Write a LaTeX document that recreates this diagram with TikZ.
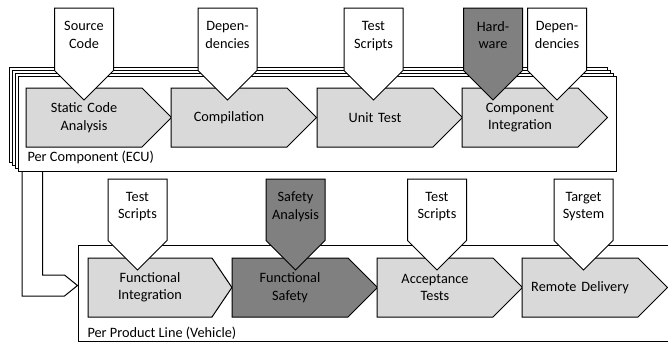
\documentclass[tikz,border=0pt]{standalone}
\usepackage{fontspec}
\setmainfont{Carlito}
\usetikzlibrary{calc,shapes.symbols}
\definecolor{stepgray}{HTML}{D9D9D9}
\definecolor{safegray}{HTML}{808080}

\begin{document}
\begin{tikzpicture}[x=1pt,y=-1pt,line width=1pt,
    font=\fontsize{14.3}{17.4}\selectfont,
    stage/.style={signal,signal to=east,signal pointer angle=90,draw,fill=stepgray,
        inner sep=0pt,text width=116pt,align=center,minimum height=59pt},
    feed/.style={signal,signal to=south,signal pointer angle=90,draw,fill=white,
        inner sep=0pt,text width=59pt,align=center,text depth=26pt,minimum height=92pt},
    scopebox/.style={draw,fill=white,inner sep=0pt,minimum width=598pt,minimum height=95pt},
    scopelabel/.style={anchor=west,inner sep=0pt}]
    \useasboundingbox (0,0) rectangle (668,343);
    \clip (0,0) rectangle (668,343);
    % per component (stacked)
    \coordinate (ecuc) at (317,123.5);
    \foreach \k in {3,2,1}
      \node[scopebox] at ($(ecuc)+(-3*\k,-3*\k)$) {};
    \node[scopebox](ecu) at (ecuc) {};
    \node[scopelabel](ecul) at (27,157) {Per Component (ECU)};
    % per product line
    \node[scopebox,minimum width=622pt,minimum height=96pt](veh) at (389,293) {};
    \node[scopelabel](vehl) at (87,333) {Per Product Line (Vehicle)};
    % stages
    \node[stage](sca) at (84,117.5) {Static Code\\Analysis};
    \node[stage](comp) at (229,117.5) {Compilation};
    \node[stage](unit) at (375,117.5) {Unit Test};
    \node[stage](cint) at (520,117.5) {Component\\Integration};
    \node[stage,text width=124pt,signal pointer angle=112](fint) at (150,287.5) {Functional\\Integration};
    \node[stage,fill=safegray](fsaf) at (290,287.5) {Functional\\Safety};
    \node[stage](acc) at (435,287.5) {Acceptance\\Tests};
    \node[stage](rdel) at (580,287.5) {Remote Delivery};
    % inputs
    \node[feed](src) at (84,39.25) {Source\\Code};
    \node[feed](dep1) at (227.5,39.25) {Depen-\\dencies};
    \node[feed](ts1) at (373.5,39.25) {Test\\Scripts};
    \node[feed,fill=safegray](hw) at (493,39.25) {Hard-\\ware};
    \node[feed](dep2) at (557,39.25) {Depen-\\dencies};
    \node[feed,minimum height=91pt](ts2) at (137.5,209.75) {Test\\Scripts};
    \node[feed,minimum height=91pt,fill=safegray](sa) at (295.5,209.75) {Safety\\Analysis};
    \node[feed,minimum height=91pt](ts3) at (437,209.75) {Test\\Scripts};
    \node[feed,minimum height=91pt](tgt) at (583.5,209.75) {Target\\System};
    % component -> product line
    \coordinate (tip) at ($(veh.west)+(0,-7.5)$);
    \draw ($(ecu.south west)+(4.7,0)$) |- ($(tip)+(-13,10.5)$) -- (tip)
      -- ($(tip)+(-13,-10.5)$) -| ($(ecu.south west)+(25,0)$);
\end{tikzpicture}
\end{document}
